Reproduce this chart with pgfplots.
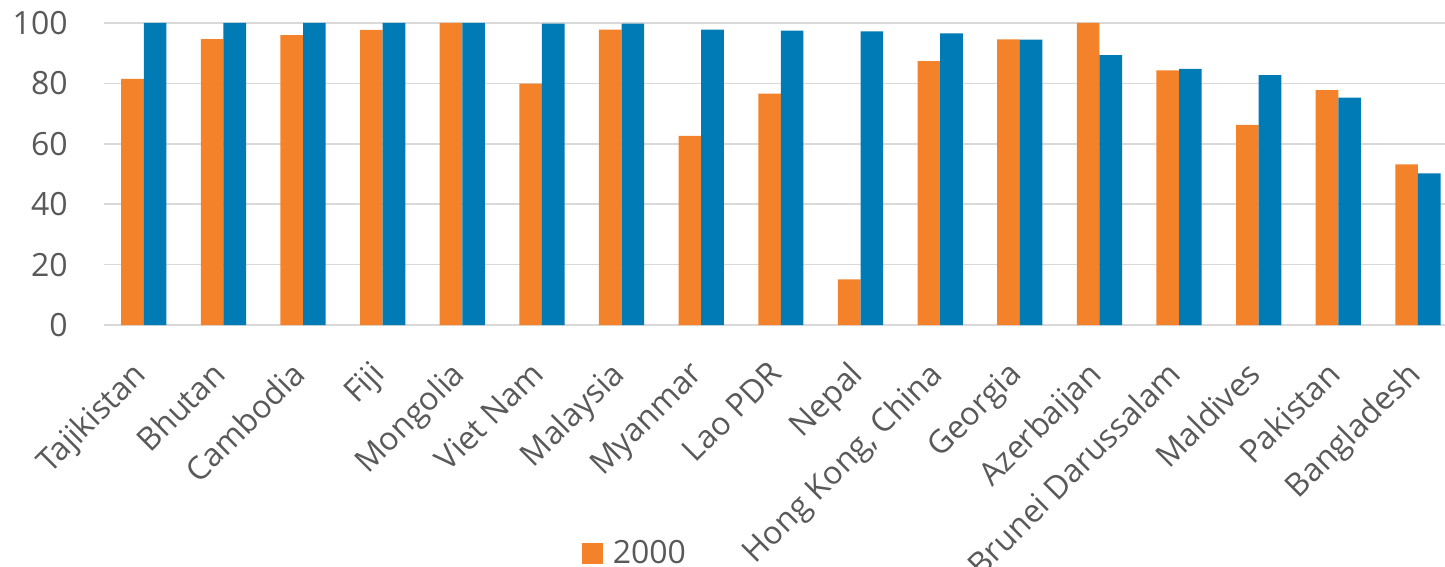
\documentclass[border=0pt]{standalone}
\usepackage{pgfplots}
\pgfplotsset{compat=1.18}
\usepackage{fontspec}
\setmainfont{Open Sans}
\definecolor{barorange}{RGB}{244,130,43}
\definecolor{barblue}{RGB}{0,123,182}
\definecolor{txtgray}{RGB}{89,89,89}
\definecolor{gridgray}{RGB}{217,217,217}

% values in percent, categories at 0..16
\pgfplotstableread{
x y2000 ylatest
0  81.5 100
1  94.7 100
2  96.0 100
3  97.7 100
4  100  100
5  79.9 99.8
6  97.8 99.8
7  62.6 97.8
8  76.6 97.5
9  15.1 97.2
10 87.4 96.6
11 94.6 94.5
12 100  89.4
13 84.3 84.8
14 66.3 82.7
15 77.8 75.3
16 53.2 50.2
}\datatable

\begin{document}
\begin{tikzpicture}
\begin{axis}[
    name=ax,
    scale only axis,
    width=670.5pt, height=151pt,
    ymin=0, ymax=100,
    xmin=-0.5, xmax=16.34,
    ytick={0,20,...,100},
    xtick=data,
    xticklabels={Tajikistan,Bhutan,Cambodia,Fiji,Mongolia,Viet Nam,Malaysia,Myanmar,Lao PDR,Nepal,{Hong Kong, China},Georgia,Azerbaijan,Brunei Darussalam,Maldives,Pakistan,Bangladesh},
    axis lines*=left,
    y axis line style={draw=none},
    x axis line style={draw=gridgray, line width=1pt},
    major tick length=0pt,
    ymajorgrids,
    grid style={draw=gridgray, line width=0.75pt},
    /pgf/number format/assume math mode=true,
    tick label style={font=\fontsize{16}{19}\selectfont, text=txtgray},
    yticklabel style={anchor=east, inner sep=0pt, xshift=-18pt},
    xticklabel style={xshift=-6.6pt, yshift=-16.9pt, rotate=45, anchor=north east, inner sep=0pt},
    legend style={at={(0.356,-0.757)}, anchor=west, draw=none, fill=none,
        inner sep=0pt, font=\fontsize{16}{19}\selectfont, text=txtgray},
    legend cell align=left,
    legend image code/.code={\fill[#1] (0pt,-5.25pt) rectangle (10.5pt,5.25pt);},
]
\addplot[ybar, bar width=0.284, bar shift=-0.142, fill=barorange, draw=none]
    table[x=x, y=y2000] {\datatable};
\addlegendentry{\hspace{3pt}2000}
\addplot[ybar, bar width=0.284, bar shift=0.142, fill=barblue, draw=none, forget plot]
    table[x=x, y=ylatest] {\datatable};
\end{axis}
\pgfresetboundingbox
\path[use as bounding box] ([xshift=-52pt, yshift=-121pt]ax.south west) rectangle ([yshift=11.5pt]ax.north east);
\end{tikzpicture}
\end{document}
